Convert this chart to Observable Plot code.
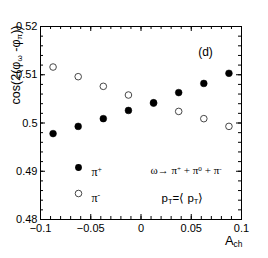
<!DOCTYPE html>
<html><head><meta charset="utf-8">
<script src="https://cdn.jsdelivr.net/npm/d3@7"></script>
<script src="https://cdn.jsdelivr.net/npm/@observablehq/plot@0.6"></script>
<style>body{margin:0;background:#fff}</style>
</head><body><div id="chart"></div>
<script>
const achBins = [-0.0875, -0.0625, -0.0375, -0.0125, 0.0125, 0.0375, 0.0625, 0.0875];
const piPlus  = [0.4978, 0.4993, 0.5009, 0.5026, 0.5042, 0.5063, 0.5082, 0.5103];
const piMinus = [0.5116, 0.5096, 0.5076, 0.5058, 0.5041, 0.5024, 0.5009, 0.4993];
const xTickValues = [-0.1, -0.05, 0, 0.05, 0.1];
const yTickValues = [0.48, 0.49, 0.50, 0.51, 0.52];
const xMinor = d3.range(-10, 11).map(i => i / 100);
const yMinor = d3.range(0, 21).map(i => +(0.48 + i * 0.002).toFixed(3));

const plusData = achBins.map((x, i) => ({x, y: piPlus[i]}));
const minusData = achBins.map((x, i) => ({x, y: piMinus[i]}));

const W = 268, H = 258, mL = 40, mR = 27, mT = 26, mB = 39;
const fw = W - mL - mR, fh = H - mT - mB;
const font = "Liberation Sans, Arial, sans-serif";

const fmtX = d => d === 0 ? "0" : (d < 0 ? "\u2212" : "") + String(Math.abs(d));
const fmtY = d => String(+d.toFixed(2));

const plot = Plot.plot({
  width: W, height: H,
  marginLeft: mL, marginRight: mR, marginTop: mT, marginBottom: mB,
  style: {fontFamily: font, background: "white", overflow: "visible"},
  x: {domain: [-0.1, 0.1]},
  y: {domain: [0.48, 0.52]},
  marks: [
    Plot.frame({stroke: "black", strokeWidth: 1}),
    // inward ticks bottom/top
    Plot.tickX(xMinor, {x: d => d, insetTop: fh - 3, stroke: "black"}),
    Plot.tickX(xTickValues, {x: d => d, insetTop: fh - 5, stroke: "black"}),
    Plot.tickX(xMinor, {x: d => d, insetBottom: fh - 3, stroke: "black"}),
    Plot.tickX(xTickValues, {x: d => d, insetBottom: fh - 5, stroke: "black"}),
    // inward ticks left/right
    Plot.tickY(yMinor, {y: d => d, insetRight: fw - 3, stroke: "black"}),
    Plot.tickY(yTickValues, {y: d => d, insetRight: fw - 5, stroke: "black"}),
    Plot.tickY(yMinor, {y: d => d, insetLeft: fw - 3, stroke: "black"}),
    Plot.tickY(yTickValues, {y: d => d, insetLeft: fw - 5, stroke: "black"}),
    Plot.axisX(xTickValues, {tickSize: 0, tickPadding: 5, tickFormat: fmtX, fontSize: 11, label: null, fill: "black"}),
    Plot.axisY(yTickValues, {tickSize: 0, tickPadding: 3, tickFormat: fmtY, fontSize: 11, label: null, fill: "black"}),
    // data
    Plot.dot(minusData, {x: "x", y: "y", r: 3.3, stroke: "#333", strokeWidth: 0.9, fill: "white"}),
    Plot.dot(plusData, {x: "x", y: "y", r: 3.4, fill: "black", stroke: "black", strokeWidth: 0.5}),
    // legend
    Plot.dot([0], {frameAnchor: "top-left", dx: 38, dy: 141, r: 3.4, fill: "black"}),
    Plot.dot([0], {frameAnchor: "top-left", dx: 38, dy: 167, r: 3.3, stroke: "#333", strokeWidth: 0.9, fill: "white"}),
    Plot.text(["π^{+}"], {frameAnchor: "top-left", dx: 51, dy: 141, textAnchor: "start", fontSize: 12, fontFamily: "Liberation Serif, serif"}),
    Plot.text(["π^{-}"], {frameAnchor: "top-left", dx: 51, dy: 167, textAnchor: "start", fontSize: 12, fontFamily: "Liberation Serif, serif"}),
    Plot.text(["ω→ π^{+} + π^{0} + π^{-}"], {frameAnchor: "top-left", dx: 110, dy: 140, textAnchor: "start", fontSize: 11, fontFamily: "Liberation Serif, serif"}),
    Plot.text(["p_{T}=⟨ p_{T}⟩"], {frameAnchor: "top-left", dx: 121, dy: 167, textAnchor: "start", fontSize: 11.5}),
    Plot.text(["(d)"], {frameAnchor: "top-left", dx: 165, dy: 21, textAnchor: "middle", fontSize: 12}),
    // axis labels
    Plot.text(["A_{ch}"], {frameAnchor: "bottom-right", dx: 1, dy: 25, textAnchor: "end", fontSize: 13}),
    Plot.text(["cos(2(φ_{ω} -φ_{π}))"], {frameAnchor: "top-left", dx: -29, dy: -1, rotate: -90, textAnchor: "end", fontSize: 12.5})
  ]
});

// sub/superscript post-processing
const NS = "http://www.w3.org/2000/svg";
plot.querySelectorAll("text").forEach(t => {
  const s = t.textContent;
  if (!/[_^]\{/.test(s) || t.querySelector("tspan")) return;
  const re = /([_^])\{([^}]*)\}/g;
  let last = 0, m;
  const parts = [];
  while ((m = re.exec(s))) {
    if (m.index > last) parts.push({t: s.slice(last, m.index)});
    parts.push({t: m[2], k: m[1]});
    last = re.lastIndex;
  }
  if (last < s.length) parts.push({t: s.slice(last)});
  t.textContent = "";
  parts.forEach(p => {
    const sp = document.createElementNS(NS, "tspan");
    sp.textContent = p.t;
    if (p.k) {
      sp.setAttribute("font-size", "0.65em");
      sp.setAttribute("baseline-shift", p.k === "_" ? "-25%" : "45%");
    }
    t.appendChild(sp);
  });
});
document.getElementById("chart").appendChild(plot);
</script></body></html>
